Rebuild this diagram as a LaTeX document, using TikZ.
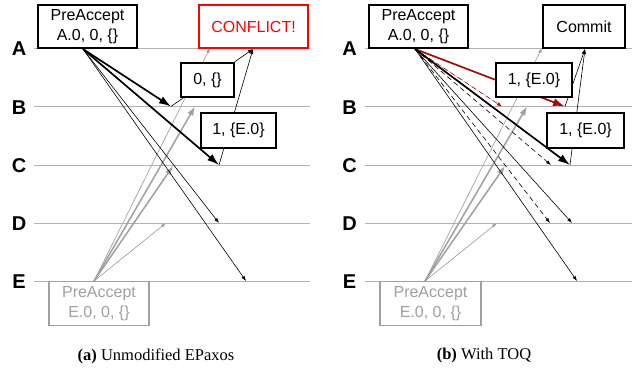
\documentclass[tikz,border=0pt]{standalone}
\usepackage{fontspec}
\setmainfont{Liberation Sans}
\newfontfamily\capfont{Liberation Serif}
\usepackage{xcolor}
\usetikzlibrary{arrows.meta,positioning}
\definecolor{linegray}{RGB}{178,178,178}
\definecolor{msggray}{RGB}{160,160,160}
\definecolor{darkred}{RGB}{165,10,10}

\begin{document}
\begin{tikzpicture}[
    x=1pt, y=-1pt,
    row/.style={draw=linegray, line width=0.8pt},
    lbl/.style={font=\fontsize{20}{20}\selectfont\bfseries},
    box/.style={rectangle, draw, line width=1.4pt, fill=white, inner sep=0pt, align=center, font=\fontsize{16}{19.5}\selectfont},
    gbox/.style={box, draw=msggray, text=msggray},
    msg/.style={-{Latex[length=5pt,width=3.6pt]}, line width=0.6pt},
    bigmsg/.style={-{Latex[length=12pt,width=8pt]}, line width=1.7pt},
    gmsg/.style={msg, draw=msggray, fill=msggray},
    gbigmsg/.style={-{Latex[length=9pt,width=6.5pt]}, line width=1.5pt, draw=msggray, fill=msggray},
    dmsg/.style={msg, dash pattern=on 5pt off 3.5pt},
    caption/.style={font=\capfont\fontsize{16.5}{19}\selectfont}
]
\useasboundingbox (0,0) rectangle (632,376);

% replica time lines
\foreach \r/\y in {A/48, B/106.5, C/165, D/223, E/281}{
    \node[lbl] (a\r) at (19,\y+1) {\r};
    \draw[row] (34,\y) -- (310,\y);
    \node[lbl] (b\r) at (349.5,\y+1) {\r};
    \draw[row] (365,\y) -- (632,\y);
}

% (a) unmodified
\coordinate (aoA) at (83,49);
\coordinate (aoE) at (94,281);
\coordinate (atB) at (171,106.5);
\coordinate (atC) at (219,165);
\coordinate (atD) at (219,223);
\coordinate (atE) at (246,281);
\coordinate (atX) at (253,49);
\coordinate (agA) at (210,48);
\coordinate (agB) at (195,106.5);
\coordinate (agC) at (173,166);
\coordinate (agD) at (166,223);

\draw[gmsg] (aoE) -- (agA);
\draw[gbigmsg] (aoE) -- (agB);
\draw[gbigmsg] (aoE) -- (agC);
\draw[gmsg] (aoE) -- (agD);
\draw[bigmsg] (aoA) -- (atB);
\draw[bigmsg] (aoA) -- (atC);
\draw[msg] (aoA) -- (atD);
\draw[msg] (aoA) -- (atE);
\draw[msg] (atB) -- (atX);
\draw[msg] (atC) -- (atX);

\node[box, minimum width=99pt, minimum height=43pt] (apA) at (87.5,26.5) {PreAccept\\A.0, 0, \{\}};
\node[box, draw=red, text=red, minimum width=109pt, minimum height=43pt] (conflict) at (253.5,26.5) {CONFLICT!};
\node[box, minimum width=53pt, minimum height=34pt] (arB) at (207.5,80) {0, \{\}};
\node[box, minimum width=75pt, minimum height=35pt] (arC) at (238.5,130.5) {1, \{E.0\}};
\node[gbox, minimum width=100pt, minimum height=44pt] (apE) at (99,303.5) {PreAccept\\E.0, 0, \{\}};

% (b) with TOQ
\coordinate (boA) at (415,49);
\coordinate (boE) at (425,281);
\coordinate (btB1) at (565,106.5);
\coordinate (btB2) at (502,106.5);
\coordinate (btC1) at (570,165);
\coordinate (btC2) at (551,165);
\coordinate (btD1) at (572,223);
\coordinate (btD2) at (550,223);
\coordinate (btE) at (577,281);
\coordinate (btX) at (585,49);
\coordinate (bgA) at (542,48);
\coordinate (bgB) at (527,106.5);
\coordinate (bgC) at (505,166);
\coordinate (bgD) at (497,223);

\draw[gmsg] (boE) -- (bgA);
\draw[gbigmsg] (boE) -- (bgB);
\draw[gbigmsg] (boE) -- (bgC);
\draw[gmsg] (boE) -- (bgD);
\draw[bigmsg, draw=darkred, fill=darkred] (boA) -- (btB1);
\draw[dmsg, draw=darkred, fill=darkred] (boA) -- (btB2);
\draw[bigmsg] (boA) -- (btC1);
\draw[dmsg] (boA) -- (btC2);
\draw[msg] (boA) -- (btD1);
\draw[dmsg] (boA) -- (btD2);
\draw[msg] (boA) -- (btE);
\draw[msg] (btB1) -- (btX);
\draw[msg] (btC1) -- (btX);

\node[box, minimum width=99pt, minimum height=43pt] (bpA) at (418.5,26.5) {PreAccept\\A.0, 0, \{\}};
\node[box, minimum width=82pt, minimum height=43pt] (commit) at (584,26.5) {Commit};
\node[box, minimum width=76pt, minimum height=34pt] (brB) at (534,80) {1, \{E.0\}};
\node[box, minimum width=77pt, minimum height=35pt] (brC) at (585.5,130.5) {1, \{E.0\}};
\node[gbox, minimum width=101pt, minimum height=44pt] (bpE) at (430.5,303.5) {PreAccept\\E.0, 0, \{\}};

% captions
\node[caption] (capa) at (156,356) {\textbf{(a)} Unmodified EPaxos};
\node[caption] (capb) at (484,356) {\textbf{(b)} With TOQ};
\end{tikzpicture}
\end{document}
